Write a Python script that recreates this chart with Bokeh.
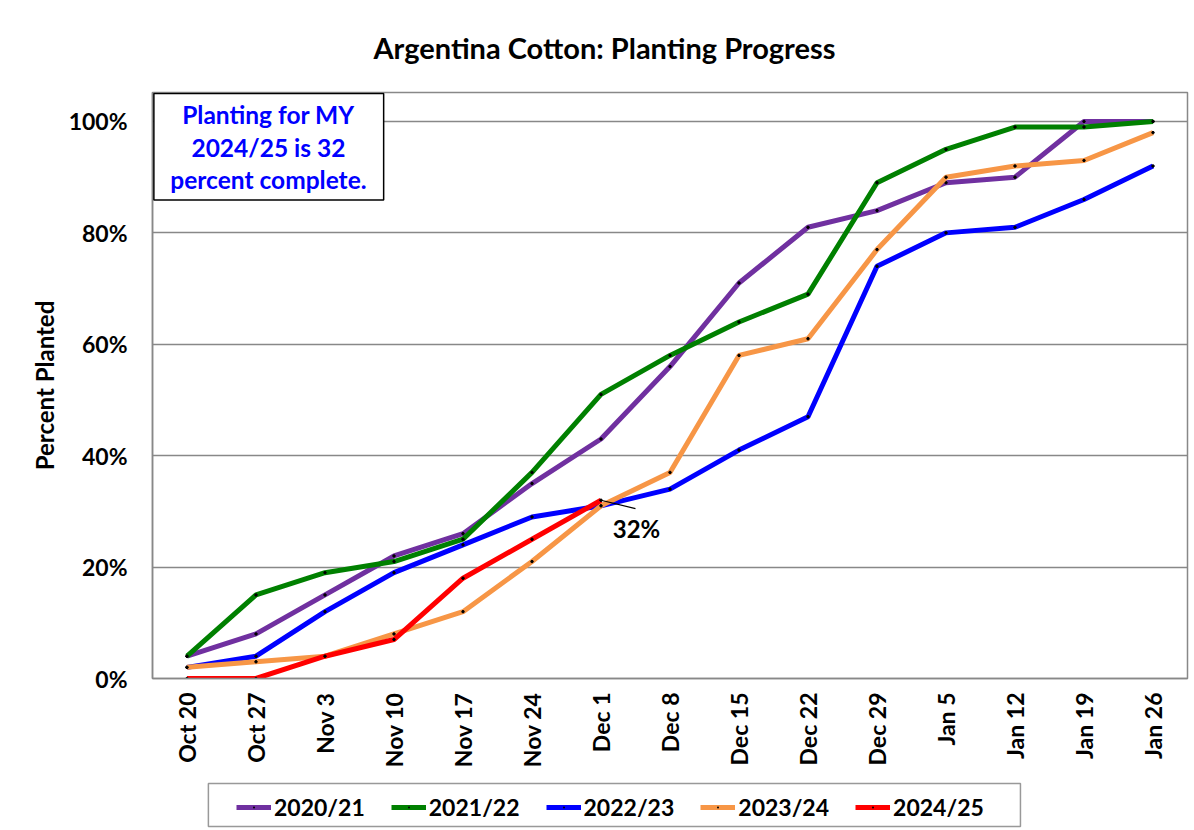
from bokeh.plotting import figure
from bokeh.models import FactorRange, Range1d, Label, Legend, LegendItem, BoxAnnotation, FixedTicker
from bokeh.layouts import column
from bokeh.embed import file_html
from bokeh.resources import INLINE
import math

categories = ["Oct 20", "Oct 27", "Nov 3", "Nov 10", "Nov 17", "Nov 24", "Dec 1",
              "Dec 8", "Dec 15", "Dec 22", "Dec 29", "Jan 5", "Jan 12", "Jan 19", "Jan 26"]
s2020 = [4, 8, 15, 22, 26, 35, 43, 56, 71, 81, 84, 89, 90, 100, 100]
s2021 = [4, 15, 19, 21, 25, 37, 51, 58, 64, 69, 89, 95, 99, 99, 100]
s2022 = [2, 4, 12, 19, 24, 29, 31, 34, 41, 47, 74, 80, 81, 86, 92]
s2023 = [2, 3, 4, 8, 12, 21, 31, 37, 58, 61, 77, 90, 92, 93, 98]
s2024 = [0, 0, 4, 7, 18, 25, 32]
series_names = ["2020/21", "2021/22", "2022/23", "2023/24", "2024/25"]
series_values = [s2020, s2021, s2022, s2023, s2024]
colors = ["#7030A0", "#008000", "#0000FF", "#F79646", "#FF0000"]
y_ticks = [0, 20, 40, 60, 80, 100]

FONT = "Lato"
LINE_W = 5

p = figure(width=1190, height=770, x_range=FactorRange(*categories, range_padding=0),
           y_range=Range1d(0, 105.2), output_backend="svg", toolbar_location=None,
           min_border_left=152, min_border_right=3, min_border_top=90, min_border_bottom=91)
p.x_range.factor_padding = 0
p.title.text = "Argentina Cotton: Planting Progress"
p.title.align = "left"
p.title.text_font = FONT
p.title.text_font_size = "29px"
p.title.text_font_style = "bold"
p.title.text_color = "black"
p.title.offset = 221
p.title.standoff = 55

p.outline_line_color = "#888888"
p.outline_line_width = 1.5
p.xgrid.grid_line_color = None
p.ygrid.grid_line_color = "#888888"
p.ygrid.grid_line_width = 1.5
p.yaxis.ticker = FixedTicker(ticks=y_ticks)
p.yaxis.major_label_overrides = {v: f"{v}%" for v in y_ticks}
for ax in (p.xaxis[0], p.yaxis[0]):
    ax.axis_line_color = "#888888"
    ax.axis_line_width = 1.5
    ax.major_tick_line_color = None
    ax.minor_tick_line_color = None
    ax.major_label_text_font = FONT
    ax.major_label_text_font_style = "bold"
    ax.major_label_text_color = "black"
    ax.major_label_text_font_size = "23px"
p.yaxis.major_label_standoff = 19
p.xaxis.major_label_standoff = 8
p.xaxis.major_label_orientation = math.pi / 2
p.yaxis.axis_label = "Percent Planted"
p.yaxis.axis_label_text_font = FONT
p.yaxis.axis_label_text_font_style = "bold"
p.yaxis.axis_label_text_font_size = "24px"
p.yaxis.axis_label_text_color = "black"
p.yaxis.axis_label_standoff = 7

for name, vals, c in zip(series_names, series_values, colors):
    xs = categories[:len(vals)]
    p.line(xs, vals, line_color=c, line_width=LINE_W)
    p.scatter(xs, vals, size=2.5, color="black")

# Text box annotation
p.add_layout(BoxAnnotation(left=0.02, right=3.35, bottom=85.9, top=105.0,
                           fill_color="white", fill_alpha=1, line_color="black", line_alpha=1,
                           line_width=1.5))
box_lines = ["Planting for MY", "2024/25 is 32", "percent complete."]
for i, t in enumerate(box_lines):
    p.add_layout(Label(x=1.68, y=101.2 - i * 5.8, text=t, text_align="center", text_baseline="middle",
                       text_font=FONT, text_font_style="bold", text_font_size="24.5px", text_color="#0000FF"))

# 32% callout
p.segment(x0=[6.5], y0=[s2024[-1]], x1=[7.0], y1=[30.5], line_color="black", line_width=1.2)
p.add_layout(Label(x=6.67, y=27.0, text=f"{s2024[-1]}%", text_baseline="middle",
                   text_font=FONT, text_font_style="bold", text_font_size="24px", text_color="black"))

# Legend strip below the chart (proxy renderers kept outside the visible range)
lg = figure(width=1190, height=60, x_range=Range1d(0, 1), y_range=Range1d(0, 1),
            output_backend="svg", toolbar_location=None, min_border=0,
            x_axis_location=None, y_axis_location=None)
lg.outline_line_color = None
lg.xgrid.grid_line_color = None
lg.ygrid.grid_line_color = None
lg.add_layout(BoxAnnotation(left=0.054, right=0.8386, bottom=0.067, top=0.783,
                            fill_color="white", fill_alpha=1, line_color="#999999",
                            line_alpha=1, line_width=1.5))
items = []
for name, c in zip(series_names, colors):
    r1 = lg.line(x=[-5, -4], y=[-5, -4], line_color=c, line_width=LINE_W)
    r2 = lg.scatter(x=[-5], y=[-5], marker="dot", size=2.5, color="black")
    items.append(LegendItem(label=name, renderers=[r1, r2]))
legend = Legend(items=items, orientation="horizontal", location=(84, 9),
                label_text_font=FONT, label_text_font_style="bold", label_text_font_size="23px",
                label_text_color="black", border_line_color=None, background_fill_alpha=0,
                glyph_width=35, label_standoff=3, spacing=26, padding=7, margin=0)
lg.add_layout(legend, "center")

open("out.html", "w").write(file_html(column(p, lg, spacing=0), INLINE))
